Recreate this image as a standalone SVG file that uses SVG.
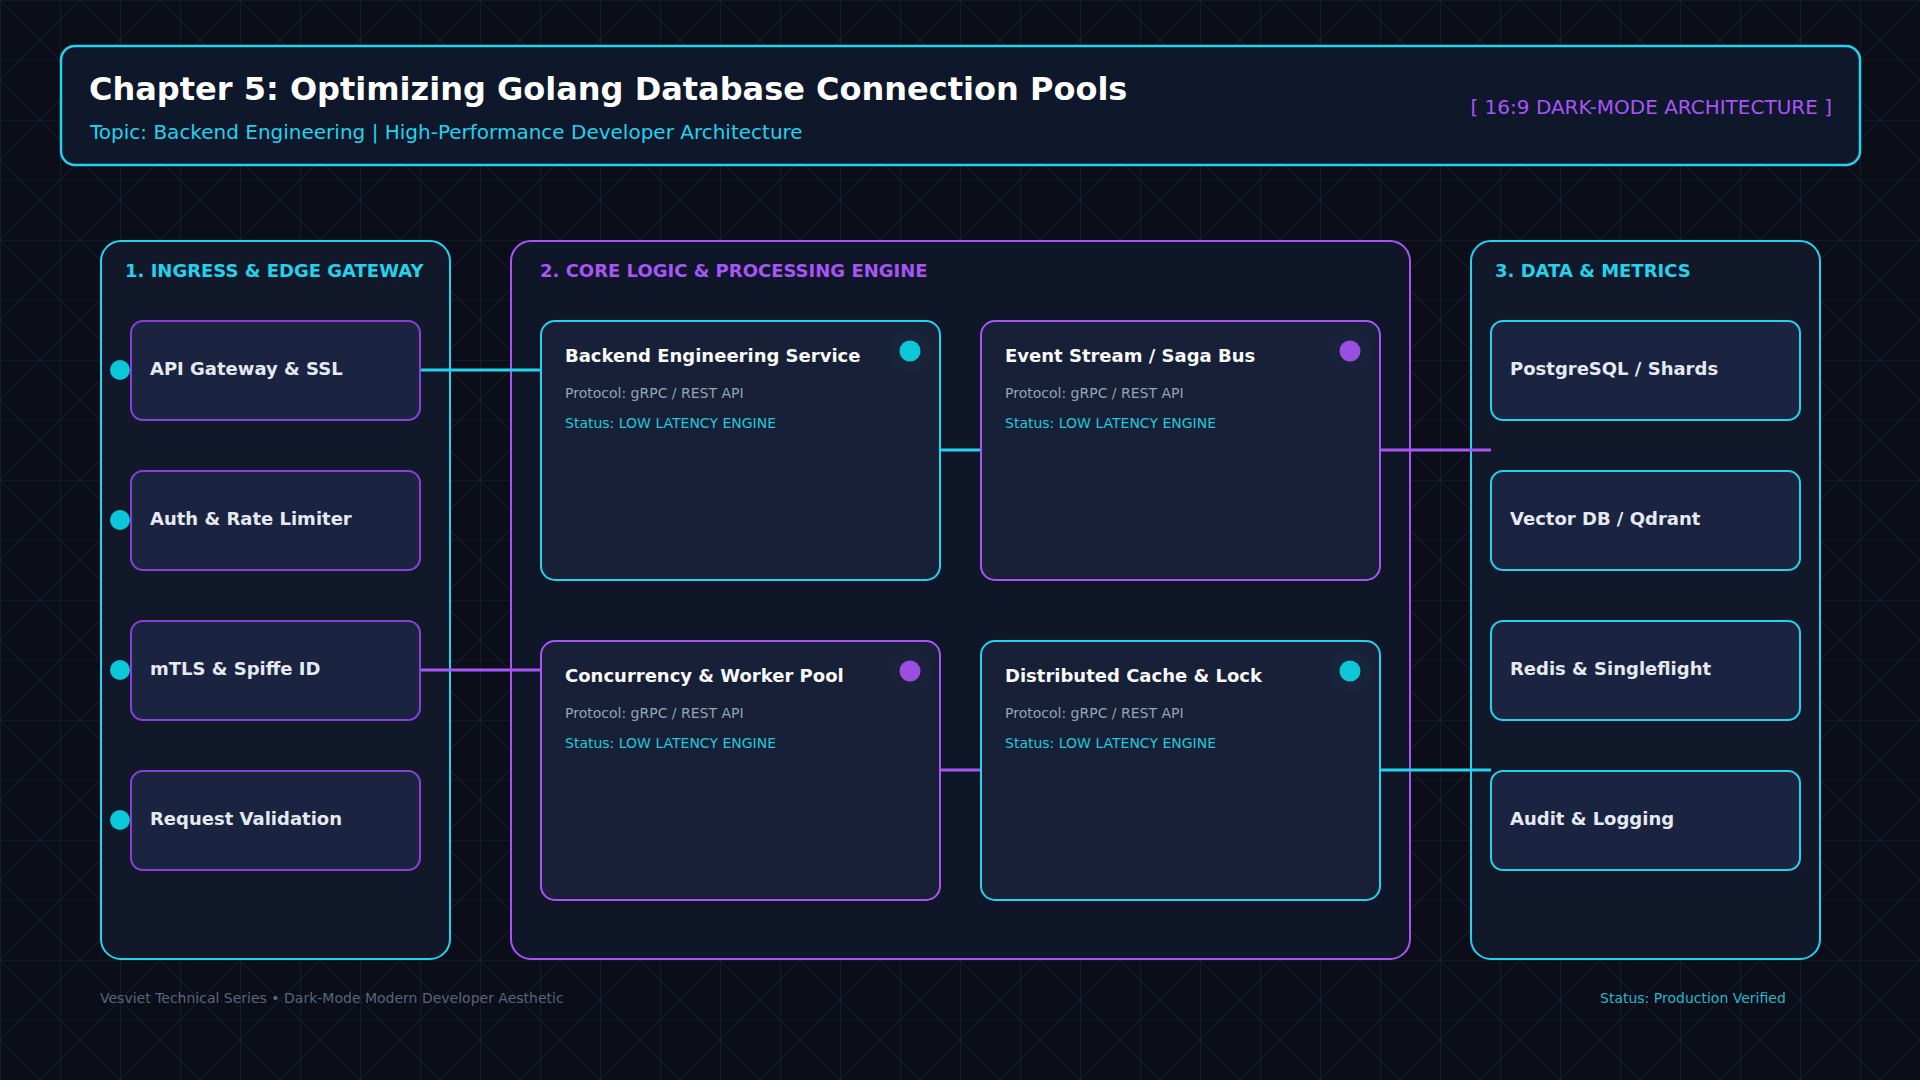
<svg xmlns="http://www.w3.org/2000/svg" width="1920" height="1080" viewBox="0 0 1920 1080">
  <defs>
    <pattern id="grid" width="60" height="60" patternUnits="userSpaceOnUse">
      <path d="M60 0 L0 0 L0 60" fill="none" stroke="#1d2335" stroke-width="1.2"/>
    </pattern>
    <pattern id="diag" width="80" height="80" patternUnits="userSpaceOnUse" x="-20" y="20">
      <path d="M80 0 L0 80 M-10 10 L10 -10 M70 90 L90 70 M40 0 L80 40 M0 40 L40 80 M-40 0 L0 40 M40 -40 L80 0" fill="none" stroke="#1a2031" stroke-width="1"/>
    </pattern>
    <style>
      .col { stroke-width: 2; }
      .colcyan { fill: #111829; stroke: #22d3ee; }
      .colpurple { fill: #0f1628; stroke: #a855f7; }
      .coltitle { font-family: "DejaVu Sans", sans-serif; font-weight: bold; font-size: 18px; }
      .node { fill: #1a2440; stroke-width: 2; }
      .card { fill: #172036; stroke-width: 2; }
      .cyan { stroke: #22d3ee; }
      .purple { stroke: #a855f7; }
      .purpledark { stroke: #8b3fd9; }
      .nodetext { font-family: "DejaVu Sans", sans-serif; font-weight: bold; font-size: 18px; fill: #e5e9f2; }
      .cardtitle { font-family: "DejaVu Sans", sans-serif; font-weight: bold; font-size: 18px; fill: #f8fafc; }
      .proto { font-family: "DejaVu Sans", sans-serif; font-size: 14px; fill: #94a3b8; }
      .status { font-family: "DejaVu Sans", sans-serif; font-size: 14px; fill: #22c8dd; }
      .conn { stroke-width: 3; fill: none; }
      .halo { opacity: 0.025; }
    </style>
  </defs>

  <rect width="1920" height="1080" fill="#0b0e18"/>
  <rect width="1920" height="1080" fill="url(#diag)"/>
  <rect width="1920" height="1080" fill="url(#grid)"/>

  <g id="header">
    <rect x="61" y="46" width="1799" height="119" rx="14" fill="#0f172a" stroke="#22d3ee" stroke-width="2.5"/>
    <text x="89" y="100" font-family="DejaVu Sans, sans-serif" font-weight="bold" font-size="32" fill="#ffffff">Chapter 5: Optimizing Golang Database Connection Pools</text>
    <text x="90" y="139" font-family="DejaVu Sans, sans-serif" font-size="20" fill="#22d3ee">Topic: Backend Engineering | High-Performance Developer Architecture</text>
    <text x="1832" y="114" text-anchor="end" font-family="DejaVu Sans, sans-serif" font-size="20" fill="#a855f7">[ 16:9 DARK-MODE ARCHITECTURE ]</text>
  </g>

  <g id="col-ingress">
    <rect class="col colcyan" x="101" y="241" width="349" height="718" rx="20"/>
    <text class="coltitle" x="125" y="277" fill="#22d3ee">1. INGRESS &amp; EDGE GATEWAY</text>
  </g>
  <g id="col-core">
    <rect class="col colpurple" x="511" y="241" width="899" height="718" rx="20"/>
    <text class="coltitle" x="540" y="277" fill="#a855f7">2. CORE LOGIC &amp; PROCESSING ENGINE</text>
  </g>
  <g id="col-data">
    <rect class="col colcyan" x="1471" y="241" width="349" height="718" rx="20"/>
    <text class="coltitle" x="1495" y="277" fill="#22d3ee">3. DATA &amp; METRICS</text>
  </g>

  <g id="connectors">
    <line class="conn" x1="420" y1="370" x2="541" y2="370" stroke="#22d3ee"/>
    <line class="conn" x1="420" y1="670" x2="541" y2="670" stroke="#a855f7"/>
    <line class="conn" x1="940" y1="450" x2="981" y2="450" stroke="#22d3ee"/>
    <line class="conn" x1="940" y1="770" x2="981" y2="770" stroke="#a855f7"/>
    <line class="conn" x1="1380" y1="450" x2="1491" y2="450" stroke="#a855f7"/>
    <line class="conn" x1="1380" y1="770" x2="1491" y2="770" stroke="#22d3ee"/>
  </g>

  <g id="node-api-gateway">
    <rect class="node purpledark" x="131" y="321" width="289" height="99" rx="12"/>
    <circle cx="120" cy="370" r="10" fill="#0bc8d8"/>
    <text class="nodetext" x="150" y="375">API Gateway &amp; SSL</text>
  </g>
  <g id="node-auth">
    <rect class="node purpledark" x="131" y="471" width="289" height="99" rx="12"/>
    <circle cx="120" cy="520" r="10" fill="#0bc8d8"/>
    <text class="nodetext" x="150" y="525">Auth &amp; Rate Limiter</text>
  </g>
  <g id="node-mtls">
    <rect class="node purpledark" x="131" y="621" width="289" height="99" rx="12"/>
    <circle cx="120" cy="670" r="10" fill="#0bc8d8"/>
    <text class="nodetext" x="150" y="675">mTLS &amp; Spiffe ID</text>
  </g>
  <g id="node-validation">
    <rect class="node purpledark" x="131" y="771" width="289" height="99" rx="12"/>
    <circle cx="120" cy="820" r="10" fill="#0bc8d8"/>
    <text class="nodetext" x="150" y="825">Request Validation</text>
  </g>

  <g id="card-backend">
    <rect class="card cyan" x="541" y="321" width="399" height="259" rx="14"/>
    <circle class="halo" cx="910" cy="351" r="22" fill="#22d3ee"/>
    <circle cx="910" cy="351" r="10.5" fill="#0bc8d8"/>
    <text class="cardtitle" x="565" y="362">Backend Engineering Service</text>
    <text class="proto" x="565" y="398">Protocol: gRPC / REST API</text>
    <text class="status" x="565" y="428">Status: LOW LATENCY ENGINE</text>
  </g>
  <g id="card-event-stream">
    <rect class="card purple" x="981" y="321" width="399" height="259" rx="14"/>
    <circle class="halo" cx="1350" cy="351" r="22" fill="#a855f7"/>
    <circle cx="1350" cy="351" r="10.5" fill="#9b4fe0"/>
    <text class="cardtitle" x="1005" y="362">Event Stream / Saga Bus</text>
    <text class="proto" x="1005" y="398">Protocol: gRPC / REST API</text>
    <text class="status" x="1005" y="428">Status: LOW LATENCY ENGINE</text>
  </g>
  <g id="card-concurrency">
    <rect class="card purple" x="541" y="641" width="399" height="259" rx="14"/>
    <circle class="halo" cx="910" cy="671" r="22" fill="#a855f7"/>
    <circle cx="910" cy="671" r="10.5" fill="#9b4fe0"/>
    <text class="cardtitle" x="565" y="682">Concurrency &amp; Worker Pool</text>
    <text class="proto" x="565" y="718">Protocol: gRPC / REST API</text>
    <text class="status" x="565" y="748">Status: LOW LATENCY ENGINE</text>
  </g>
  <g id="card-cache">
    <rect class="card cyan" x="981" y="641" width="399" height="259" rx="14"/>
    <circle class="halo" cx="1350" cy="671" r="22" fill="#22d3ee"/>
    <circle cx="1350" cy="671" r="10.5" fill="#0bc8d8"/>
    <text class="cardtitle" x="1005" y="682">Distributed Cache &amp; Lock</text>
    <text class="proto" x="1005" y="718">Protocol: gRPC / REST API</text>
    <text class="status" x="1005" y="748">Status: LOW LATENCY ENGINE</text>
  </g>

  <g id="node-postgres">
    <rect class="node cyan" x="1491" y="321" width="309" height="99" rx="12"/>
    <text class="nodetext" x="1510" y="375">PostgreSQL / Shards</text>
  </g>
  <g id="node-vector">
    <rect class="node cyan" x="1491" y="471" width="309" height="99" rx="12"/>
    <text class="nodetext" x="1510" y="525">Vector DB / Qdrant</text>
  </g>
  <g id="node-redis">
    <rect class="node cyan" x="1491" y="621" width="309" height="99" rx="12"/>
    <text class="nodetext" x="1510" y="675">Redis &amp; Singleflight</text>
  </g>
  <g id="node-audit">
    <rect class="node cyan" x="1491" y="771" width="309" height="99" rx="12"/>
    <text class="nodetext" x="1510" y="825">Audit &amp; Logging</text>
  </g>

  <g id="footer">
    <text x="100" y="1003" font-family="DejaVu Sans, sans-serif" font-size="14" fill="#5b6579">Vesviet Technical Series • Dark-Mode Modern Developer Aesthetic</text>
    <text x="1600" y="1003" font-family="DejaVu Sans, sans-serif" font-size="14" fill="#22b8cc">Status: Production Verified</text>
  </g>
</svg>
